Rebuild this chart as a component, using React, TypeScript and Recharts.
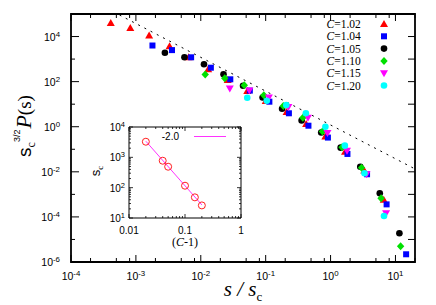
import { ScatterChart, Scatter, XAxis, YAxis, ReferenceArea, ReferenceLine } from 'recharts'

// s/s_c and s_c^{3/2} P(s) for each C
const X_102 = [4.1e-4, 8.2e-4, 1.6e-3, 3.3e-3, 6.5e-3, 0.013, 0.026, 0.052, 0.1, 0.21, 0.42, 0.83, 1.67, 3.3, 6.6]
const Y_102 = [4.0e4, 2.4e4, 1.1e4, 3.7e3, 1.2e3, 355, 118, 38, 13.9, 4.5, 1.32, 0.37, 0.078, 0.0115, 5.8e-4]
const X_104 = [1.8e-3, 3.6e-3, 7.1e-3, 0.0143, 0.0285, 0.057, 0.114, 0.228, 0.456, 0.91, 1.82, 3.65, 7.3, 14.6]
const Y_104 = [4.0e3, 2.5e3, 1.2e3, 415, 127, 40, 12.9, 3.95, 1.11, 0.33, 0.062, 7.8e-3, 3.6e-4, 2.2e-6]
const X_105 = [2.8e-3, 5.6e-3, 0.0112, 0.0224, 0.0448, 0.0896, 0.179, 0.358, 0.717, 1.43, 2.87, 5.73, 11.5]
const Y_105 = [1.92e3, 1.2e3, 594, 212, 66, 19.8, 6.25, 1.89, 0.556, 0.118, 0.0169, 1.12e-3, 1.88e-5]
const X_110 = [0.0117, 0.0234, 0.0468, 0.0936, 0.187, 0.374, 0.749, 1.5, 3.0, 6.0, 12.0]
const Y_110 = [207, 141, 70, 25, 8.3, 2.5, 0.62, 0.124, 0.0151, 6.7e-4, 5.0e-6]
const X_115 = [0.028, 0.056, 0.112, 0.224, 0.448, 0.896, 1.79, 3.58, 7.17]
const Y_115 = [50, 40.5, 19.8, 7.5, 2.52, 0.53, 0.086, 7.8e-3, 1.45e-4]
const X_120 = [0.052, 0.104, 0.208, 0.416, 0.832, 1.66, 3.33, 6.66]
const Y_120 = [19.4, 14.3, 9.2, 3.95, 1.0, 0.145, 8.6e-3, 1.1e-4]

// dashed guide, slope -3/2
const DASH_X = [5.6e-4, 20]
const DASH_Y = [9.0e4, 0.0134]

// inset: s_c against C-1, with the -2.0 fit
const C_MINUS_1 = [0.02, 0.04, 0.05, 0.1, 0.15, 0.2]
const S_C = [3270, 773, 490, 116, 48, 26]
const FIT_X = [0.02, 0.2]
const FIT_Y = [3400, 27]

const X_MAJOR = [1e-4, 1e-3, 1e-2, 1e-1, 1, 10]
const Y_TICKS = [1e-6, 1e-5, 1e-4, 1e-3, 1e-2, 1e-1, 1, 10, 100, 1e3, 1e4, 1e5]
const IN_X_MAJOR = [0.01, 0.1, 1]
const IN_Y_MAJOR = [10, 100, 1000, 10000]

const LABELS = ['1.02', '1.04', '1.05', '1.10', '1.15', '1.20']
const COLORS = ['#ff0000', '#0000ff', '#000000', '#00e000', '#ff00ff', '#00ffff']
const KINDS = ['tri', 'sq', 'dot', 'dia', 'inv', 'dot']
const XS = [X_102, X_104, X_105, X_110, X_115, X_120]
const YS = [Y_102, Y_104, Y_105, Y_110, Y_115, Y_120]

const MAIN = { left: 71, top: 14, right: 415, bottom: 262 }
// inset chart box on the page, and its plot area inside that box
const BOX = { left: 70, top: 120, width: 180, height: 132 }
const INSET = { left: 59, top: 7, right: 171, bottom: 98 }
const SANS = '"Liberation Sans", Arial, sans-serif'
const SERIF = '"Liberation Serif", "Times New Roman", serif'

const withMinors = (majors: number[], mult: number[], max: number) => {
  const out: number[] = []
  majors.forEach(m => {
    out.push(m)
    mult.forEach(k => { if (m * k <= max) out.push(m * k) })
  })
  return out.filter(v => v <= max)
}
const X_TICKS = withMinors(X_MAJOR, [2, 5, 8], 20)
const IN_X_TICKS = withMinors(IN_X_MAJOR, [2, 3, 4, 5, 6, 7, 8, 9], 1)
const IN_Y_TICKS = withMinors(IN_Y_MAJOR, [2, 3, 4, 5, 6, 7, 8, 9], 10000)

const expOf = (v: number) => Math.round(Math.log10(v))
const isMajor = (v: number) => Math.abs(Math.log10(v) - expOf(v)) < 1e-6

function Marker({ kind, cx, cy, color }: any) {
  if (cx == null || cy == null) return <g />
  switch (kind) {
    case 'tri':
      return <polygon points={`${cx},${cy - 4} ${cx - 4},${cy + 3} ${cx + 4},${cy + 3}`} fill={color} />
    case 'sq':
      return <rect x={cx - 3} y={cy - 3} width={6} height={6} fill={color} />
    case 'dia':
      return <polygon points={`${cx},${cy - 4} ${cx + 3.7},${cy} ${cx},${cy + 4} ${cx - 3.7},${cy}`} fill={color} />
    case 'inv':
      return <polygon points={`${cx - 4},${cy - 3} ${cx + 4},${cy - 3} ${cx},${cy + 4}`} fill={color} />
    default:
      return <circle cx={cx} cy={cy} r={3.3} fill={color} />
  }
}

const Pow = ({ x, y, e, anchor, size = 10.5 }: any) => (
  <text x={x} y={y} textAnchor={anchor} fontFamily={SANS} fontSize={size} fill="#000">
    10<tspan dy={-4} fontSize={size * 0.75}>{e}</tspan>
  </text>
)

const MainXTick = ({ x, y, payload }: any) => {
  const major = isMajor(payload.value)
  const len = major ? 7 : 4
  return (
    <g>
      <line x1={x} x2={x} y1={y} y2={y - len} stroke="#000" />
      <line x1={x} x2={x} y1={MAIN.top} y2={MAIN.top + len} stroke="#000" />
      {major && <Pow x={x} y={y + 18} e={expOf(payload.value)} anchor="middle" />}
    </g>
  )
}

const MainYTick = ({ x, y, payload }: any) => {
  const e = expOf(payload.value)
  const labelled = e % 2 === 0
  return (
    <g>
      <line x1={x} x2={x + (labelled ? 8 : 4)} y1={y} y2={y} stroke="#000" />
      <line x1={MAIN.right} x2={MAIN.right - 7} y1={y} y2={y} stroke="#000" />
      {labelled && <Pow x={x - 11} y={y + 4} e={e} anchor="end" />}
    </g>
  )
}

const InXTick = ({ x, y, payload }: any) => {
  const major = isMajor(payload.value)
  const len = major ? 4 : 2
  return (
    <g>
      <line x1={x} x2={x} y1={y} y2={y - len} stroke="#000" strokeWidth={0.8} />
      <line x1={x} x2={x} y1={INSET.top} y2={INSET.top + len} stroke="#000" strokeWidth={0.8} />
      {major && (
        <text x={x} y={y + 16} textAnchor="middle" fontFamily={SANS} fontSize={10} fill="#000">
          {String(payload.value)}
        </text>
      )}
    </g>
  )
}

const InYTick = ({ x, y, payload }: any) => {
  const major = isMajor(payload.value)
  const len = major ? 4 : 2
  return (
    <g>
      <line x1={x} x2={x + len} y1={y} y2={y} stroke="#000" strokeWidth={0.8} />
      <line x1={INSET.right} x2={INSET.right - len} y1={y} y2={y} stroke="#000" strokeWidth={0.8} />
      {major && <Pow x={x - 4} y={y + 4} e={expOf(payload.value)} anchor="end" size={10} />}
    </g>
  )
}

export default function App() {
  const series = XS.map((xs, i) => xs.map((x, j) => ({ x, y: YS[i][j] })))
  const inset = C_MINUS_1.map((x, i) => ({ x, y: S_C[i] }))

  return (
    <div style={{ position: 'absolute', left: 0, top: 0, width: 436, height: 305, background: '#fff' }}>
      <div style={{ position: 'absolute', left: 0, top: 0 }}>
        <ScatterChart width={436} height={305} margin={{ top: MAIN.top, right: 436 - MAIN.right, bottom: 0, left: 0 }}>
          <XAxis dataKey="x" type="number" scale="log" domain={[1e-4, 20]} allowDataOverflow ticks={X_TICKS}
            interval={0} height={305 - MAIN.bottom} axisLine={false} tickLine={false} tickSize={0} tickMargin={0} tick={MainXTick} />
          <YAxis dataKey="y" type="number" scale="log" domain={[1e-6, 1e5]} allowDataOverflow ticks={Y_TICKS}
            interval={0} width={MAIN.left} axisLine={false} tickLine={false} tickSize={0} tickMargin={0} tick={MainYTick} />
          <ReferenceArea x1={1e-4} x2={20} y1={1e-6} y2={1e5} fill="none" stroke="#000" strokeWidth={1.8} ifOverflow="visible" />
          <ReferenceLine segment={[{ x: DASH_X[0], y: DASH_Y[0] }, { x: DASH_X[1], y: DASH_Y[1] }]}
            stroke="#000" strokeWidth={1} strokeDasharray="2 5" ifOverflow="visible" />
          {series.map((d, i) => (
            <Scatter key={LABELS[i]} data={d} isAnimationActive={false}
              shape={(p: any) => <Marker kind={KINDS[i]} cx={p.cx} cy={p.cy} color={COLORS[i]} />} />
          ))}
        </ScatterChart>
      </div>

      <div style={{ position: 'absolute', left: BOX.left, top: BOX.top }}>
        <ScatterChart width={BOX.width} height={BOX.height}
          margin={{ top: INSET.top, right: BOX.width - INSET.right, bottom: 0, left: 0 }}>
          <XAxis dataKey="x" type="number" scale="log" domain={[0.01, 1]} allowDataOverflow ticks={IN_X_TICKS}
            interval={0} height={BOX.height - INSET.bottom} axisLine={false} tickLine={false} tickSize={0} tickMargin={0} tick={InXTick} />
          <YAxis dataKey="y" type="number" scale="log" domain={[10, 10000]} allowDataOverflow ticks={IN_Y_TICKS}
            interval={0} width={INSET.left} axisLine={false} tickLine={false} tickSize={0} tickMargin={0} tick={InYTick} />
          <ReferenceArea x1={0.01} x2={1} y1={10} y2={10000} fill="#fff" stroke="#000" strokeWidth={1} ifOverflow="visible" />
          <ReferenceLine segment={[{ x: FIT_X[0], y: FIT_Y[0] }, { x: FIT_X[1], y: FIT_Y[1] }]}
            stroke="#ff33ff" strokeWidth={1} ifOverflow="visible" />
          <Scatter data={inset} isAnimationActive={false}
            shape={(p: any) => <circle cx={p.cx} cy={p.cy} r={3.5} fill="none" stroke="#ff2020" strokeWidth={1} />} />
        </ScatterChart>
      </div>

      <svg width={436} height={305} style={{ position: 'absolute', left: 0, top: 0, pointerEvents: 'none' }}>
        {LABELS.map((c, i) => {
          const cy = 24 + i * 12.3
          return (
            <g key={c}>
              <text x={326.5} y={cy + 4} fontFamily={SERIF} fontSize={11.5} fill="#000">
                <tspan fontStyle="italic">C</tspan>={c}
              </text>
              <Marker kind={KINDS[i]} cx={384} cy={cy} color={COLORS[i]} />
            </g>
          )
        })}

        <text x={179} y={140} textAnchor="end" fontFamily={SANS} fontSize={10} fill="#000">-2.0</text>
        <line x1={194} x2={226} y1={136.5} y2={136.5} stroke="#ff33ff" strokeWidth={1} />

        <text transform="rotate(-90 31 126)" x={31} y={126} textAnchor="middle" fill="#000">
          <tspan fontFamily={SANS} fontSize={19}>s</tspan>
          <tspan fontFamily={SERIF} fontSize={12} dy={4}>c</tspan>
          <tspan fontFamily={SANS} fontSize={9} dy={-15}>3/2</tspan>
          <tspan fontFamily={SERIF} fontSize={22} fontStyle="italic" dy={11} dx={1}>P</tspan>
          <tspan fontFamily={SERIF} fontSize={19}>(s)</tspan>
        </text>

        <text x={243} y={296} textAnchor="middle" fontFamily={SERIF} fontStyle="italic" fontSize={21} fill="#000">
          s / s<tspan fontSize={13} dy={5} fontStyle="normal">c</tspan>
        </text>

        <text transform="rotate(-90 100 171)" x={100} y={171} textAnchor="middle" fill="#000">
          <tspan fontFamily={SANS} fontSize={13}>s</tspan>
          <tspan fontFamily={SERIF} fontSize={9} dy={3}>c</tspan>
        </text>
        <text x={185} y={246} textAnchor="middle" fontFamily={SERIF} fontSize={12} fill="#000">
          (<tspan fontStyle="italic">C</tspan>-1)
        </text>
      </svg>
    </div>
  )
}
